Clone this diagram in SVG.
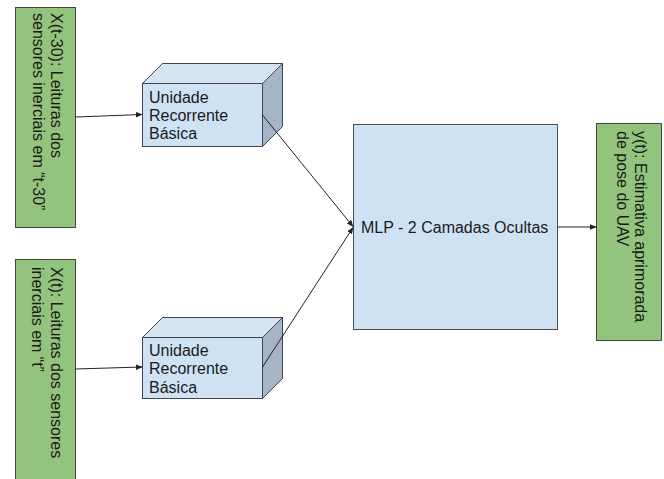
<svg xmlns="http://www.w3.org/2000/svg" width="664" height="479" viewBox="0 0 664 479">
  <style>
    .lbl { font-family: "Liberation Sans", Arial, sans-serif; font-size: 16px; fill: #1a1a1a; }
    .io { fill: #93c47d; stroke: #3c4a36; stroke-width: 1; }
    .front { fill: #cfe2f3; stroke: #3d4650; stroke-width: 1; }
    .top { fill: #d6e4f1; stroke: #3d4650; stroke-width: 1; }
    .side { fill: #a5b5c5; stroke: #3d4650; stroke-width: 1; }
    .mlp { fill: #cfe2f3; stroke: #4a4f55; stroke-width: 1; }
    .edge { fill: none; stroke: #222; stroke-width: 1; marker-end: url(#arrow); }
  </style>
  <defs>
    <marker id="arrow" viewBox="0 0 10 10" refX="9" refY="5" markerWidth="7" markerHeight="7" markerUnits="userSpaceOnUse" orient="auto">
      <path d="M0,1 L10,5 L0,9 Z" fill="#222"/>
    </marker>
  </defs>

  <rect width="664" height="479" fill="#ffffff"/>

  <!-- input at t-30 -->
  <g id="input-t30">
    <rect class="io" x="15.5" y="7.5" width="60" height="220"/>
    <text class="lbl" transform="translate(51,13) rotate(90)">
      <tspan x="0" y="0">X(t-30): Leituras dos</tspan>
      <tspan x="0" y="18.5">sensores inerciais em “t-30”</tspan>
    </text>
  </g>

  <!-- input at t -->
  <g id="input-t">
    <rect class="io" x="15.5" y="259.5" width="60" height="225"/>
    <text class="lbl" transform="translate(50.5,267) rotate(90)">
      <tspan x="0" y="0">X(t): Leituras dos sensores</tspan>
      <tspan x="0" y="18.5">inerciais em “t”</tspan>
    </text>
  </g>

  <!-- recurrent unit (upper) -->
  <g id="rnn-1">
    <polygon class="top" points="142.5,83.5 162.5,63.5 282.5,63.5 262.5,83.5"/>
    <polygon class="side" points="262.5,83.5 282.5,63.5 282.5,126.5 262.5,146.5"/>
    <rect class="front" x="142.5" y="83.5" width="120" height="63"/>
    <text class="lbl">
      <tspan x="149" y="103.3">Unidade</tspan>
      <tspan x="149" y="121">Recorrente</tspan>
      <tspan x="149" y="138.5">Básica</tspan>
    </text>
  </g>

  <!-- recurrent unit (lower) -->
  <g id="rnn-2">
    <polygon class="top" points="142.5,337.5 162.5,317.5 282.5,317.5 262.5,337.5"/>
    <polygon class="side" points="262.5,337.5 282.5,317.5 282.5,378.5 262.5,398.5"/>
    <rect class="front" x="142.5" y="337.5" width="120" height="61"/>
    <text class="lbl">
      <tspan x="149" y="355.5">Unidade</tspan>
      <tspan x="149" y="374">Recorrente</tspan>
      <tspan x="149" y="392.5">Básica</tspan>
    </text>
  </g>

  <!-- multilayer perceptron -->
  <g id="mlp">
    <rect class="mlp" x="353.5" y="124.5" width="204" height="205"/>
    <text class="lbl" x="361" y="233">MLP - 2 Camadas Ocultas</text>
  </g>

  <!-- output estimate -->
  <g id="output">
    <rect class="io" x="596.5" y="123.5" width="65" height="217"/>
    <text class="lbl" transform="translate(635,131) rotate(90)">
      <tspan x="0" y="0">y(t): Estimativa aprimorada</tspan>
      <tspan x="0" y="18.2">de pose do UAV</tspan>
    </text>
  </g>

  <g id="connectors">
    <path class="edge" d="M75.5,117 L142,114.5"/>
    <path class="edge" d="M75.5,369 L142,367"/>
    <path class="edge" d="M262.5,115 L353,226.5"/>
    <path class="edge" d="M262.5,367 L353,227.5"/>
    <path class="edge" d="M557.5,227 L596,227"/>
  </g>
</svg>
